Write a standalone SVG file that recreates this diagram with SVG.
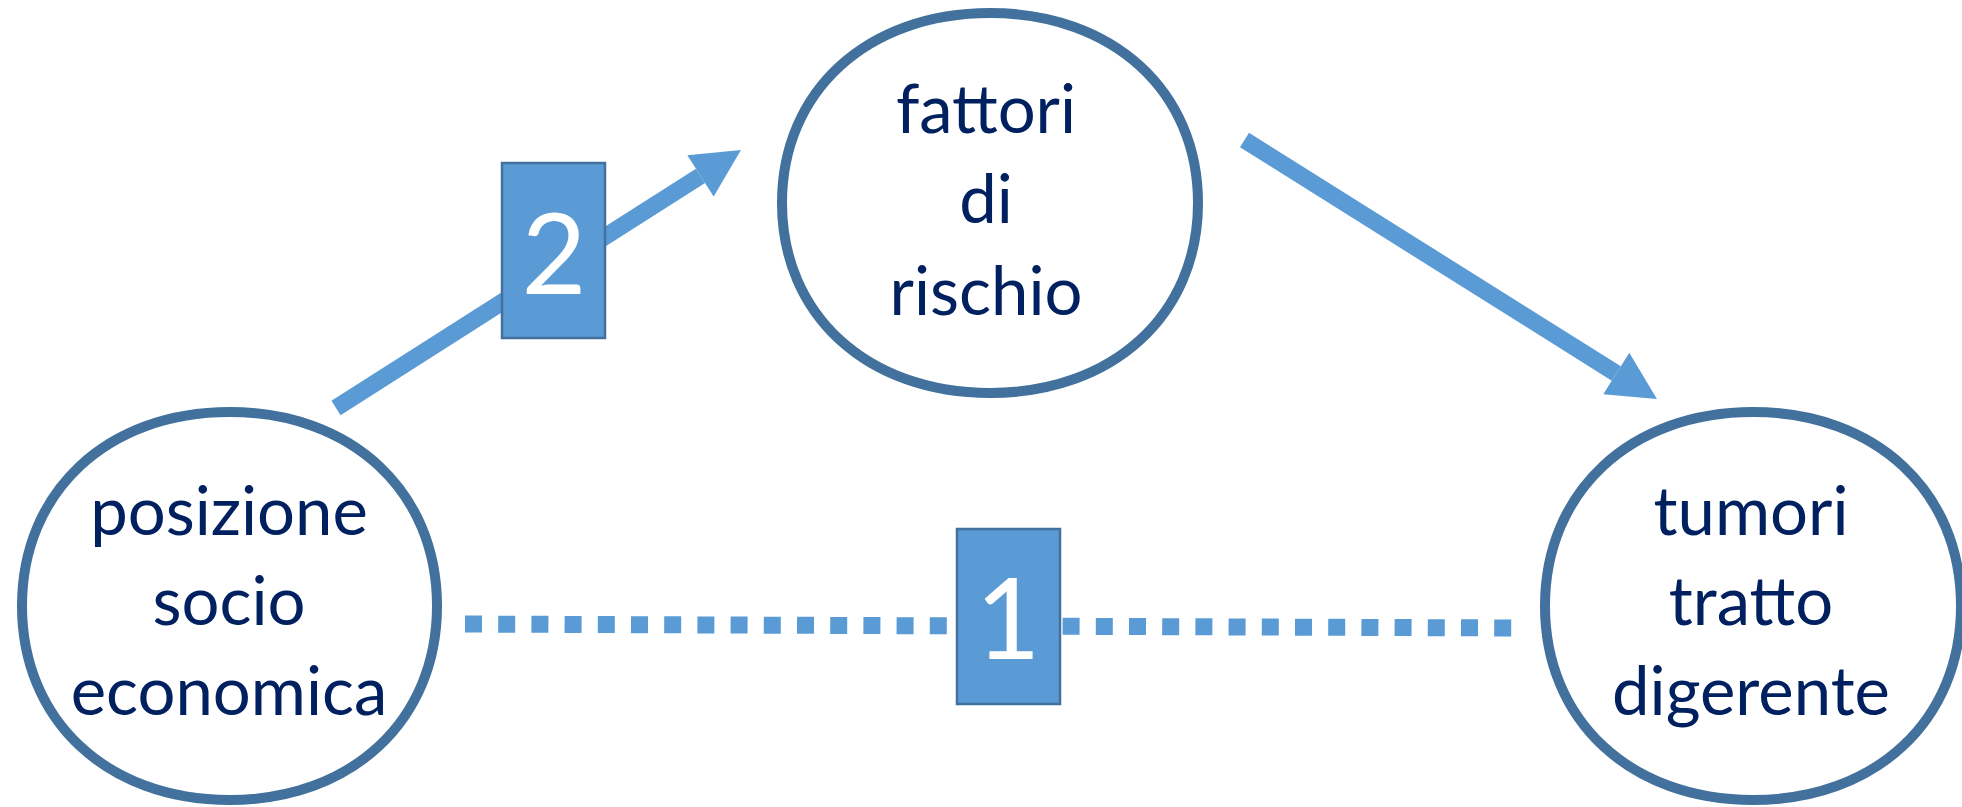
<svg xmlns="http://www.w3.org/2000/svg" width="1962" height="807" viewBox="0 0 1962 807">
<style>
.node{fill:#FFFFFF;stroke:#41719C;stroke-width:10}
.lbl{font-family:Lato,"Open Sans","Liberation Sans",sans-serif;font-size:67px;fill:#002060;text-anchor:middle}
.arrow{stroke:#5B9BD5;stroke-width:17;fill:none}
.dots{stroke:#5B9BD5;stroke-width:17;fill:none;stroke-dasharray:17 16.2}
.box{fill:#5B9BD5;stroke:#41719C;stroke-width:2.5}
.num{font-family:Lato,"Open Sans","Liberation Sans",sans-serif;font-size:112px;fill:#FFFFFF;text-anchor:middle}
</style>
<defs>
<marker id="ah" markerUnits="userSpaceOnUse" markerWidth="50" markerHeight="50" viewBox="0 -25 49 50" refX="0" refY="0" orient="auto">
<path d="M0,-24.5 L48,0 L0,24.5 Z" fill="#5B9BD5"/>
</marker>
</defs>
<rect width="1962" height="807" fill="#FFFFFF"/>
<g id="node-posizione">
<path class="node" d="M437,606 C437,720.5 351.9,800 229.5,800 C107.1,800 22,720.5 22,606 C22,491.5 107.1,412 229.5,412 C351.9,412 437,491.5 437,606Z"/>
<text class="lbl" x="229" y="535">posizione</text>
<text class="lbl" x="229" y="625">socio</text>
<text class="lbl" x="229" y="715">economica</text>
</g>
<g id="node-fattori">
<path class="node" d="M1198,203 C1198,315.1 1112.7,393 990,393 C867.3,393 782,315.1 782,203 C782,90.9 867.3,13 990,13 C1112.7,13 1198,90.9 1198,203Z"/>
<text class="lbl" x="986" y="133">fattori</text>
<text class="lbl" x="986" y="223">di</text>
<text class="lbl" x="986" y="315">rischio</text>
</g>
<g id="node-tumori">
<path class="node" d="M1961,606 C1961,720.5 1875.7,800 1753,800 C1630.3,800 1545,720.5 1545,606 C1545,491.5 1630.3,412 1753,412 C1875.7,412 1961,491.5 1961,606Z"/>
<text class="lbl" x="1751" y="535">tumori</text>
<text class="lbl" x="1751" y="625">tratto</text>
<text class="lbl" x="1751" y="715">digerente</text>
</g>
<g id="connectors">
<line class="dots" x1="465" y1="624" x2="1512" y2="628"/>
<line class="arrow" x1="336" y1="408" x2="700.5" y2="175.8" marker-end="url(#ah)"/>
<line class="arrow" x1="1244.5" y1="140" x2="1616.3" y2="373.5" marker-end="url(#ah)"/>
</g>
<g id="label-2">
<rect class="box" x="502" y="163" width="103" height="175"/>
<text class="num" x="554" y="294">2</text>
</g>
<g id="label-1">
<rect class="box" x="957" y="529" width="103" height="175"/>
<text class="num" x="1008" y="659">1</text>
</g>
</svg>
